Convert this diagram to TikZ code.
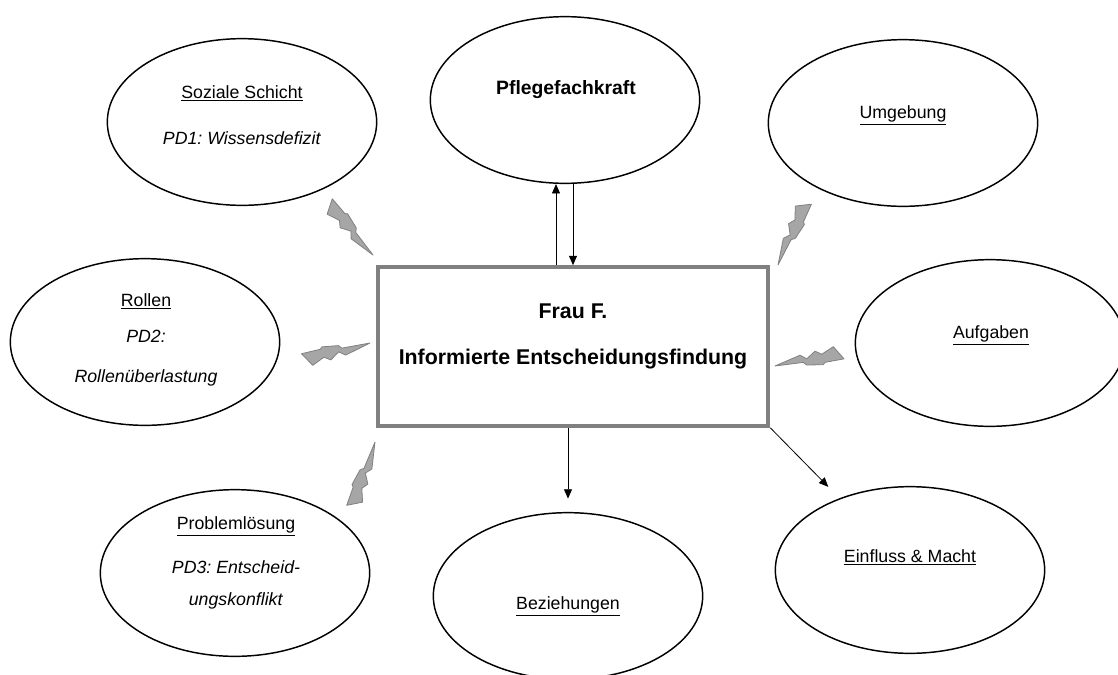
\documentclass[tikz,border=0pt]{standalone}
\usepackage{fontspec}
\setmainfont{Liberation Sans}
\frenchspacing
\usetikzlibrary{shapes.geometric,arrows.meta}
\definecolor{boltfill}{RGB}{166,166,166}
\definecolor{boltline}{RGB}{128,128,128}
\definecolor{framegray}{RGB}{128,128,128}
\tikzset{
  oval/.style={draw,ellipse,line width=1.1pt,minimum width=202pt,minimum height=125pt},
  lbl/.style={align=center,font=\fontsize{13.3}{16}\selectfont},
  arr/.style={-{Triangle[length=7pt,width=6pt]},line width=0.6pt},
  bolt/.pic={
    \draw[yscale=1.35,fill=boltfill,draw=boltline,line width=0.6pt,line join=round]
      (0,0) -- (25,-8) -- (31.7,-5.3) -- (40,-11) -- (46.7,-8.7) -- (58.3,-14.3)
      -- (69,-5.3) -- (50,-2.7) -- (48.3,-1) -- (31.7,-0.7) -- (28.3,-2.7) -- cycle;
  }
}
\begin{document}
\begin{tikzpicture}[x=0.75pt,y=-0.75pt]
            \useasboundingbox (0,0) rectangle (1118,675);
            \node[oval] (soz) at (242,122) {};
            \node[oval] (pfl) at (565,100) {};
            \node[oval] (umg) at (903,123) {};
            \node[oval] (rol) at (145,342) {};
            \node[oval] (auf) at (990,343) {};
            \node[oval] (pro) at (235,573) {};
            \node[oval] (bez) at (568,596) {};
            \node[oval] (ein) at (910,570) {};
            \node[draw=framegray,line width=3pt,minimum width=293pt,minimum height=119pt] (ctr) at (573,346.5) {};

            \node[lbl] (sozT) at (242,115) {\underline{Soziale Schicht}\\[18pt]\textit{PD1: Wissensdefizit}};
            \node[font=\fontsize{14.5}{17}\selectfont\bfseries] (pflT) at (566,90) {Pflegefachkraft};
            \node[lbl] (umgT) at (903,115) {\underline{Umgebung}};
            \node[lbl] (rolT) at (146,340) {\underline{Rollen}\\[11pt]\textit{PD2:}\\[14pt]\textit{Rollenüberlastung}};
            \node[lbl] (aufT) at (991,335) {\underline{Aufgaben}};
            \node[lbl] (proT) at (236,563) {\underline{Problemlösung}\\[17pt]\textit{PD3: Entscheid-}\\[7.5pt]\textit{ungskonflikt}};
            \node[lbl] (bezT) at (568,606) {\underline{Beziehungen}};
            \node[lbl] (einT) at (910,557) {\underline{Einfluss \& Macht}};
            \node[align=center,font=\fontsize{16}{19}\selectfont\bfseries] (ctrT) at (573,336) {Frau F.\\[15.5pt]Informierte Entscheidungsfindung};

            \coordinate (upS) at ([xshift=-12.75pt]ctr.north);
            \draw[arr] (upS) -- (upS |- pfl.south);
            \draw[arr] (ctr.north |- pfl.south) -- (ctr.north);
            \draw[arr,shorten >=10pt] (ctr.south -| bez.north) -- (bez.north);
            \draw[arr,shorten >=12pt] (ctr.south east) -- (ein);

            \pic[rotate=120] at (373,255) {bolt};
            \pic[rotate=55.3] at (778,265) {bolt};
            \pic[rotate=183] at (370,343) {bolt};
            \pic[rotate=0] at (775,366) {bolt};
            \pic[rotate=240] at (375,442) {bolt};
        \end{tikzpicture}
\end{document}
